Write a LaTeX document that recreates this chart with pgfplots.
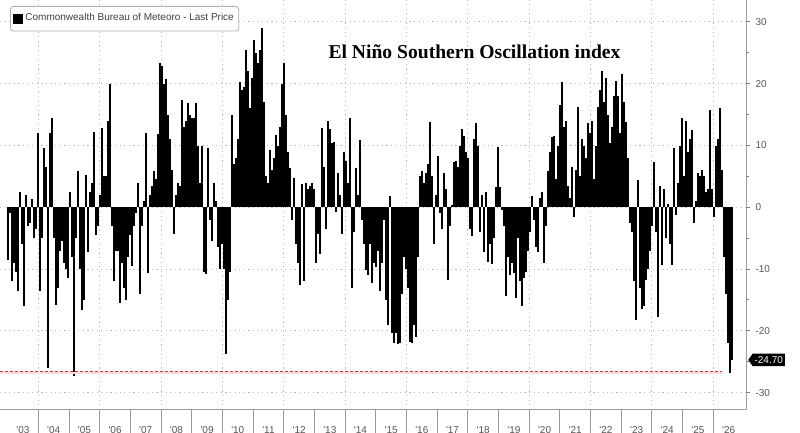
\documentclass[border=0pt]{standalone}
\usepackage{fontspec}
\usepackage{pgfplots}
\pgfplotsset{compat=1.18}
\usepackage{pgfplotstable}
\usetikzlibrary{shapes.symbols}
\newfontfamily\labfont{Liberation Sans}
\newfontfamily\titlefont{Liberation Serif}
\definecolor{gridgray}{HTML}{BDBDBD}
\definecolor{axgray}{HTML}{9A9A9A}
\definecolor{txtgray}{HTML}{555555}
\definecolor{dashred}{HTML}{E0302A}

% Southern Oscillation Index, sampled roughly every 24 days from Jan 2003
\pgfplotstableread[row sep=\\]{
v\\
-8.5\\ -1\\ -12\\ -9\\ -10.5\\ -13.5\\ 2.5\\ -6\\ -16\\ 2\\
-3\\ -2.5\\ 1.3\\ -5\\ -3.5\\ 12\\ -13.5\\ -5\\ 9.6\\ 6.5\\
-26\\ 12\\ 14.4\\ -5\\ -15.8\\ -13\\ -7\\ -5.5\\ -9\\ -10\\
-11.5\\ 2.4\\ -8\\ -27.3\\ -5\\ 5.8\\ -10\\ -16.6\\ -15\\ 5.2\\
-7.3\\ 2.5\\ 4\\ 12.2\\ -4.5\\ -3\\ 2\\ 12.8\\ 5\\ 5\\
13.9\\ 19.9\\ -3\\ -12\\ -7\\ -7\\ -15.5\\ -9\\ -13\\ -15\\
-8\\ -4.5\\ -9.5\\ -3\\ -1\\ 4\\ -14\\ -3\\ 1\\ 12\\
-10.6\\ 2\\ 3.5\\ 5.8\\ 4.5\\ 11.9\\ 23.3\\ 22.8\\ 20\\ 20.8\\
15\\ 11\\ 6\\ -4.3\\ 2\\ 4\\ 3.5\\ 17.4\\ 13\\ 14\\
16.9\\ 15\\ 14.4\\ 14.5\\ 16.9\\ 10\\ 4\\ 10\\ -10.5\\ -10.8\\
9.6\\ -2\\ -5.5\\ 3.9\\ 1\\ -6.5\\ -10\\ -6\\ -10\\ -23.7\\
-15\\ -10.5\\ 15\\ 7\\ 8\\ 11\\ 20.3\\ 19\\ 19.5\\ 25.4\\
22\\ 16\\ 21\\ 27\\ 25\\ 23.4\\ 25.5\\ 29\\ 17\\ 5\\
4\\ 9.3\\ 6\\ 8\\ 11.7\\ 10\\ 13\\ 20\\ 23.4\\ 15\\
9\\ 6.4\\ -2\\ 4.7\\ -6\\ -9\\ -12.5\\ 3.7\\ -12\\ 4\\
3\\ 3.5\\ 4\\ 3\\ -9\\ -4.3\\ -7.5\\ 12.8\\ 6.5\\ -3.5\\
14\\ 12.7\\ 10.4\\ 10.5\\ -0.7\\ 5.5\\ 2\\ -4.4\\ 9\\ 7.5\\
4\\ 14.4\\ -13\\ -4\\ 6.3\\ 2\\ 10.9\\ -2\\ -6\\ -10.2\\
-11\\ -6\\ -12.3\\ -9\\ -9.7\\ -7\\ -13.6\\ -9\\ -2\\ -15\\
-19\\ 1.9\\ -20.4\\ -22\\ -20.4\\ -22.2\\ -22\\ -14\\ -8\\ -10\\
-13\\ -21.8\\ -22\\ -19\\ -21\\ -8\\ 5\\ 5.8\\ 4\\ 5.5\\
7\\ 13.8\\ 5\\ -6\\ 2\\ 8.3\\ -1\\ -3.5\\ 5.6\\ 3\\
-11.7\\ -3\\ 0.4\\ 7.3\\ 7.5\\ 6.5\\ 10\\ 12.6\\ 11.5\\ 9\\
8\\ -3.5\\ -4.7\\ 11\\ 13.6\\ 10\\ -4\\ 2\\ -7.3\\ 2.5\\
-8.8\\ -6\\ -9.2\\ -5\\ 3.3\\ 9.8\\ 3.3\\ -0.5\\ -3\\ -14.3\\
-8\\ -11\\ -9\\ -10.7\\ -14.7\\ -5\\ -12\\ -16\\ -11.5\\ -10.5\\
-7\\ -4\\ 1.8\\ -2\\ -6.5\\ -7.3\\ 1.5\\ 2.5\\ -9\\ -3\\
5.8\\ 9\\ 11.4\\ 11.5\\ 4.6\\ 10\\ 16.5\\ 20.3\\ 13\\ 14\\
3.4\\ 1.5\\ 6.5\\ -1.5\\ 6\\ 16.2\\ 5\\ 11\\ 10\\ 8\\
13.6\\ 12\\ 14\\ 4.5\\ 10\\ 16.3\\ 19\\ 22.1\\ 17\\ 21\\
15\\ 10.4\\ 13\\ 18\\ 20.4\\ 18\\ 12\\ 21.6\\ 17\\ 13.8\\
8\\ -2.5\\ -4\\ -12\\ -18.2\\ 4.4\\ -13\\ -16.5\\ -16\\ -11.7\\
-10\\ -7\\ -3\\ 7.3\\ -4\\ -17.8\\ 3.4\\ -9.4\\ 3\\ -5\\
0.5\\ -6\\ -9.4\\ 9.6\\ -1.2\\ 4\\ 10\\ 14.5\\ 5\\ 14\\
9\\ 11\\ 12.5\\ -2.6\\ 1\\ 5.5\\ 5\\ 6\\ 5\\ 2.5\\
3\\ 15.8\\ 3\\ -1.5\\ 10\\ 11\\ 16\\ 6\\ -8\\ -14\\
-22\\ -26.8\\ -24.7\\
}\soi

\begin{document}
\begin{tikzpicture}
\useasboundingbox (0pt,-11.5pt) rectangle (400pt,205pt);
\begin{axis}[
  at={(0pt,0pt)}, anchor=south west,
  scale only axis, width=373.5pt, height=205pt,
  xmin=2002.75, xmax=2027.098,
  ymin=-32.81, ymax=33.55,
  clip=false,
  axis x line*=bottom, axis y line*=right,
  axis line style={axgray, line width=0.5pt, -},
  xtick={2003.5,2004.5,2005.5,2006.5,2007.5,2008.5,2009.5,2010.5,2011.5,2012.5,2013.5,2014.5,2015.5,2016.5,2017.5,2018.5,2019.5,2020.5,2021.5,2022.5,2023.5,2024.5,2025.5,2026.5},
  xticklabels={'03,'04,'05,'06,'07,'08,'09,'10,'11,'12,'13,'14,'15,'16,'17,'18,'19,'20,'21,'22,'23,'24,'25,'26},
  xtick style={draw=none},
  xticklabel style={font=\labfont\fontsize{5}{6}\selectfont, text=txtgray, anchor=base, yshift=-10pt},
  ytick={-30,-20,-10,0,10,20,30},
  yticklabels={{-30},{-20},{-10},{0},{10},{20},{30}},
  minor ytick={-25,-15,-5,5,15,25},
  tick align=outside,
  major tick length=1.6pt, minor tick length=1.2pt,
  ytick style={axgray!80!black, line width=0.5pt},
  yticklabel style={font=\labfont\fontsize{5}{6}\selectfont, text=txtgray, anchor=west, inner sep=0pt, xshift=2.5pt},
  ymajorgrids,
  major grid style={gridgray, line width=0.5pt, dash pattern=on 0.6pt off 1.7pt},
  legend style={at={(0.01339,0.9854)}, anchor=north west, draw=axgray!80, rounded corners=1.5pt, fill=white,
    font=\labfont\fontsize{5}{6}\selectfont, text=black!75, inner xsep=1.5pt, inner ysep=2.6pt,
    nodes={inner sep=1pt}},
  legend cell align=left,
]
\pgfplotsinvokeforeach{2004,2006,...,2026}{
  \draw[gridgray, line width=0.5pt, dash pattern=on 0.6pt off 1.7pt] (axis cs:#1,-32.81) -- (axis cs:#1,33.55);
}
\addplot[ycomb, black, line width=0.7pt,
  legend image code/.code={\fill[black, sharp corners] (0pt,-2.1pt) rectangle (4.3pt,2.1pt);}]
  table[x expr=2003.0108+0.065189*\coordindex, y=v]{\soi};
\addlegendentry{Commonwealth Bureau of Meteoro - Last Price}
\addplot[red!14, line width=1.1pt, forget plot] coordinates {(2002.75,-26.85) (2026.28,-26.85)};
\addplot[dashred, line width=0.45pt, dash pattern=on 1.6pt off 0.9pt, forget plot] coordinates {(2002.75,-26.55) (2026.28,-26.55)};
\pgfplotsinvokeforeach{2004,...,2026}{
  \draw[axgray, line width=0.5pt] (axis cs:#1,-32.81) -- ++(0pt,-11.5pt);
}
\node[font=\titlefont\bfseries\fontsize{9.8}{11}\selectfont, anchor=base] at (axis description cs:0.6352,0.8576) {El Niño Southern Oscillation index};
\node[signal, signal to=west, signal pointer angle=110, fill=black, text=white,
  font=\labfont\fontsize{5}{6}\selectfont, inner xsep=1pt, inner ysep=1.3pt, anchor=west]
  at ([xshift=0.4pt]axis cs:2027.098,-24.7) {-24.70};
\end{axis}
\end{tikzpicture}
\end{document}
